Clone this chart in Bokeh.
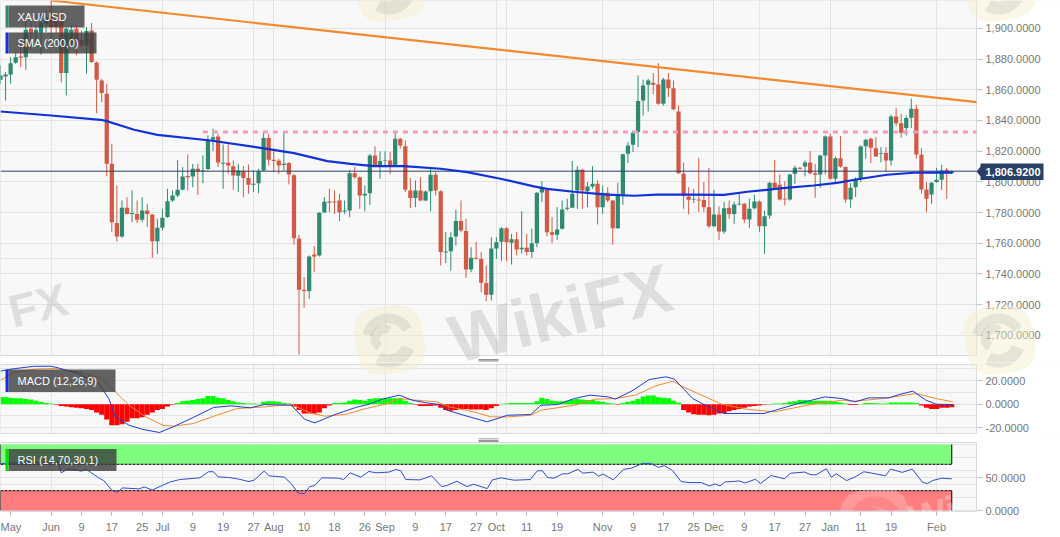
import numpy as np
from bokeh.embed import file_html
from bokeh.resources import INLINE
from bokeh.layouts import column
from bokeh.plotting import figure
from bokeh.models import (Range1d, FixedTicker, NumeralTickFormatter, LinearAxis, Grid, Label,
                          BoxAnnotation, PolyAnnotation)

OPEN = [1866.5,1868.6,1869.9,1877.5,1881.7,1881.2,1899.7,1896.9,1897.1,1903.0,1909.5,1905.1,1904.7,1870.8,1889.9,1899.7,1892.5,1888.8,1898.6,1877.8,
1866.0,1857.3,1811.7,1773.1,1764.4,1783.1,1779.1,1779.1,1775.2,1781.3,1778.7,1761.3,1770.0,1777.0,1787.8,1791.1,1794.8,1803.7,1803.5,1808.5,
1806.5,1808.3,1827.4,1829.5,1811.7,1812.4,1810.2,1803.9,1806.9,1802.4,1798.0,1799.1,1807.4,1828.5,1814.3,1813.7,1810.9,1812.2,1804.3,1763.1,
1729.6,1728.8,1752.7,1752.0,1780.0,1787.2,1787.2,1787.8,1780.7,1781.3,1805.6,1803.0,1791.1,1792.6,1817.2,1810.2,1813.5,1813.9,1810.6,1828.0,
1823.2,1794.4,1789.4,1794.4,1787.8,1793.9,1804.6,1793.9,1754.0,1754.8,1764.4,1774.4,1767.9,1742.9,1750.5,1749.8,1734.0,1726.4,1756.6,1760.9,
1769.8,1760.3,1762.6,1756.1,1757.0,1754.2,1760.0,1793.0,1794.8,1767.2,1765.5,1769.4,1782.4,1783.1,1794.4,1807.8,1793.9,1797.0,1798.7,1783.5,
1792.8,1787.8,1769.8,1791.5,1818.2,1824.1,1832.4,1853.0,1863.2,1864.5,1863.4,1850.8,1866.7,1861.0,1845.8,1805.2,1790.4,1788.5,1788.5,1788.1,
1783.5,1771.1,1778.7,1767.6,1783.1,1779.1,1785.2,1785.7,1775.5,1782.8,1787.2,1771.1,1778.1,1799.3,1798.0,1788.9,1788.5,1805.2,1809.1,1810.0,
1812.6,1805.6,1804.8,1817.2,1829.5,1802.0,1815.4,1809.6,1788.5,1796.5,1802.0,1823.2,1828.0,1821.9,1818.2,1818.7,1813.9,1842.6,1838.2,1835.0,
1841.7,1847.6,1817.6,1795.0,1791.7,1799.8,1801.3,1807.8,1805.6]
HIGH = [1875.8,1871.5,1881.2,1884.5,1889.9,1905.1,1905.1,1901.9,1909.5,1911.6,1918.2,1908.4,1909.5,1900.5,1901.9,1901.9,1898.6,1900.8,1903.4,1878.4,
1867.1,1863.9,1824.8,1797.6,1787.8,1790.0,1794.4,1787.8,1790.0,1785.7,1779.1,1775.9,1782.4,1795.4,1794.4,1814.3,1809.6,1817.8,1811.7,1811.7,
1817.2,1830.2,1834.5,1831.3,1824.3,1824.3,1813.9,1811.7,1810.2,1811.3,1807.4,1808.5,1832.4,1831.3,1821.5,1815.0,1831.7,1812.8,1805.2,1765.5,
1737.9,1752.0,1758.1,1780.2,1790.0,1795.4,1794.4,1792.2,1787.8,1807.4,1809.6,1803.5,1797.6,1818.2,1823.2,1819.8,1819.8,1819.3,1833.4,1828.7,
1826.9,1802.4,1800.9,1803.0,1794.4,1808.5,1806.3,1794.4,1767.2,1767.2,1781.8,1787.8,1775.9,1757.4,1760.7,1754.2,1745.5,1763.9,1763.9,1770.5,
1770.5,1766.1,1767.2,1780.9,1766.1,1769.4,1793.3,1800.4,1795.4,1777.0,1783.5,1787.8,1788.9,1813.5,1810.2,1808.5,1799.8,1810.2,1800.9,1797.6,
1796.5,1788.2,1799.3,1818.2,1825.8,1833.4,1869.3,1866.5,1867.1,1870.8,1877.3,1867.8,1870.8,1866.0,1849.7,1812.4,1796.5,1795.4,1815.6,1799.8,
1809.1,1794.8,1783.9,1786.8,1787.8,1787.2,1793.3,1786.1,1788.9,1791.5,1787.8,1781.3,1799.8,1814.3,1804.6,1800.4,1805.2,1810.6,1809.6,1813.9,
1820.0,1811.7,1817.5,1830.2,1831.3,1816.5,1829.8,1810.0,1799.1,1803.0,1823.7,1828.0,1828.7,1829.1,1822.6,1822.6,1843.7,1848.2,1844.3,1843.2,
1854.1,1850.2,1821.9,1799.8,1799.8,1809.1,1811.1,1809.1,1807.5]
LOW = [1863.9,1853.0,1863.9,1876.9,1874.7,1873.0,1885.6,1889.9,1882.8,1897.5,1891.0,1896.4,1864.9,1856.3,1888.8,1882.3,1887.7,1870.4,1877.5,1844.7,
1851.9,1803.7,1767.2,1761.1,1763.5,1778.7,1773.7,1773.1,1773.7,1770.5,1750.5,1753.1,1768.3,1776.5,1786.8,1790.0,1794.4,1794.4,1796.5,1791.5,
1799.1,1807.4,1820.0,1809.6,1795.4,1805.2,1794.8,1793.3,1790.0,1792.2,1793.3,1792.6,1806.9,1810.6,1806.3,1805.2,1807.4,1798.3,1759.0,1687.5,
1717.9,1723.8,1741.1,1751.3,1779.8,1780.2,1779.1,1774.4,1779.1,1777.0,1802.0,1782.4,1780.7,1785.0,1809.6,1802.0,1810.6,1805.2,1809.6,1821.5,
1793.3,1782.8,1783.5,1787.4,1787.4,1780.7,1791.1,1745.5,1747.0,1742.2,1758.5,1767.2,1737.4,1741.1,1749.4,1728.1,1722.2,1722.7,1749.8,1748.3,
1748.3,1746.1,1752.0,1753.1,1752.0,1750.5,1757.4,1786.8,1764.4,1760.0,1762.2,1768.9,1781.3,1783.1,1782.4,1782.4,1783.5,1795.4,1772.2,1779.1,
1786.8,1759.0,1769.4,1785.0,1812.2,1819.3,1822.6,1843.2,1845.8,1856.9,1850.2,1849.7,1855.2,1846.5,1805.2,1782.4,1778.7,1786.1,1780.2,1780.2,
1770.0,1770.5,1762.2,1766.1,1775.9,1772.6,1784.6,1773.1,1770.0,1782.2,1767.2,1753.1,1775.9,1795.7,1787.8,1784.6,1787.8,1798.7,1807.8,1803.5,
1804.8,1789.6,1796.1,1804.8,1801.3,1799.8,1809.1,1786.3,1783.1,1790.0,1799.8,1815.0,1812.2,1816.1,1812.8,1806.3,1810.6,1836.1,1828.7,1830.2,
1835.0,1815.0,1792.2,1780.2,1785.7,1799.3,1794.8,1788.9,1805.0]
CLOSE = [1869.3,1869.9,1877.3,1881.2,1880.8,1899.0,1896.4,1899.0,1903.4,1907.3,1900.8,1900.8,1870.8,1899.7,1899.0,1892.1,1888.8,1898.2,1878.0,1866.5,
1857.8,1811.7,1773.7,1764.4,1783.1,1779.1,1779.6,1775.2,1781.3,1779.1,1761.3,1770.0,1776.5,1787.4,1791.1,1794.8,1803.5,1803.0,1808.5,1806.7,
1807.4,1826.9,1829.1,1812.6,1812.4,1810.6,1804.1,1807.4,1802.4,1798.0,1798.7,1806.9,1828.5,1814.3,1813.5,1810.6,1811.7,1804.8,1763.3,1729.6,
1728.8,1751.3,1751.3,1779.8,1787.0,1786.3,1786.5,1780.2,1781.3,1805.6,1803.0,1791.1,1792.2,1817.2,1810.6,1813.5,1813.9,1810.2,1828.0,1823.7,
1794.8,1789.4,1794.4,1787.8,1793.7,1804.6,1794.4,1754.2,1754.6,1763.9,1774.4,1768.3,1742.9,1750.5,1749.8,1734.2,1726.4,1756.6,1760.7,1769.8,
1760.7,1762.6,1755.9,1757.0,1754.2,1760.0,1792.8,1796.1,1767.2,1765.5,1768.9,1782.0,1783.1,1792.2,1807.8,1794.4,1797.0,1798.7,1783.5,1792.8,
1787.8,1769.8,1791.5,1818.0,1823.7,1831.9,1852.6,1862.8,1866.0,1863.2,1850.8,1866.7,1861.0,1847.3,1805.6,1790.7,1788.3,1788.9,1787.8,1783.5,
1771.1,1778.7,1767.6,1782.8,1779.1,1785.2,1785.7,1775.5,1782.4,1787.2,1771.1,1777.6,1799.3,1796.1,1788.5,1788.5,1804.8,1809.1,1808.5,1812.6,
1805.6,1804.6,1817.2,1829.5,1802.0,1815.4,1810.0,1788.5,1796.1,1802.0,1823.0,1827.4,1822.2,1816.5,1818.7,1813.9,1842.6,1838.2,1831.9,1841.5,
1847.6,1817.8,1795.0,1788.9,1799.3,1801.3,1807.4,1806.9,1806.9]

SMA_IDX = [0,10,19.8,21,26.4,31,41.5,52.7,58,64.6,69.2,73.8,79.7,87,92.2,98.8,105.4,108,113.3,119.9,125.2,129.8,135.7,143,147.6,154.1,160.7,165.3,170,175.2,180.5,187.1,188.1]
SMA_VAL = [1845.8,1843.2,1840.4,1839.5,1833.9,1830.6,1826.9,1821.5,1818.7,1813.5,1811.7,1810.2,1810.2,1808.5,1806.3,1802,1797,1795.4,1793.5,1791.7,1790.9,1791.7,1791.7,1791.5,1793.5,1795.7,1797.6,1799.3,1802,1804.6,1805.9,1806.1,1805.9]
TREND_IDX = [10, 192.9]
TREND_VAL = [1918.1, 1851.9]
RESIST_IDX = [40, 192.9]
RESIST_VAL = [1832.4, 1832.4]
LAST_IDX = [0, 192.9]
LAST_VAL = [1806.92, 1806.92]

HIST = [6.2,6,5.5,5,5,4.5,4,3,2,1,.5,-.5,-1.5,-2,-2.5,-3,-3.5,-4,-5,-7,-9,-13,-18,-18,-17,-15,-12,-12,-11,-9,-7,-5,-4,-2,-.5,
1,2.5,3,3.5,4.5,5,7,7,5.5,5,3.5,2.5,1.5,1,.5,.5,.3,2,2.5,2.5,2,1,.5,-2,-5,-8,-8,-8,-7,-3.5,-1,1,1,1.5,3,4,3.5,3,4.5,5,5,5,5,5,5,3,1,
-.5,-1.5,-1.5,-1.5,-1,-3,-5,-5.5,-5,-4,-4,-4.5,-4.5,-4.5,-5,-3.5,-1.5,.3,.5,1,1,1,1,1,
2.5,5.5,4.5,3,2.5,2.5,3,4,4.5,4,3.5,3.5,2.5,2,1,.5,-.5,1,2,3,4.5,6.5,7.5,7.5,6,5.5,5,3,1.5,
-5,-7,-8.5,-9,-9,-9.5,-9,-8,-7.5,-6,-5,-4,-3,-2,-1.5,-1,-.5,-.3,.5,.7,1,2,2.5,3.5,3.5,3,3,3,3,3,2,1.5,.5,-.7,-.7,.1,1,1,.8,.5,.7,1.5,1.5,1.5,1.5,1.5,1,-1,-3,-4,-4,-3,-3,-2.5]
MACD_IDX = [0,2,4,6.7,10,11.4,15.3,19.4,21.4,22.7,25.4,28,31.4,34.1,38.1,42.1,45.5,49.4,52.1,57.5,60.1,62.1,66.1,70.2,72.8,75.5,78.8,81.4,84.2,86.9,88.2,92.2,96.2,100.2,104.8,106.8,110.1,113.4,116.5,120.1,121.5,124.8,128.2,131.5,133.2,136.8,138.9,142.9,147.5,150.9,153.6,157.7,162.9,166.3,168.9,171.6,175.6,177.6,180.3,182.9,184.9,188.2]
MACD_VAL = [28.1,29.8,30.9,32.3,32.3,30.9,26.1,17.6,4.8,-10.8,-17.9,-21.3,-24.1,-19.3,-11.3,-2.8,-1.4,-3.1,-.3,-.9,-12.8,-15.9,-8.8,-2.8,0,4.3,7.7,3.4,1.1,-.3,-5.1,-10.2,-15,-9.4,-8.8,-.9,-.3,4.8,7.7,6.2,4.3,11.3,21,23.3,21.3,4.8,0,-7.9,-7.9,-7.9,-4.5,.6,6.2,4.8,2,5.4,5.4,8.2,11.1,3.4,0,-.3]
SIGNAL_IDX = [0,2.7,6.7,10.7,15.3,20.1,22.7,25.4,28.7,32.1,34.1,38.1,42.7,46.8,52.1,57.5,61.5,64.1,68.1,72.2,76.1,78.8,82.2,86.2,88.8,93.5,96.9,100.2,104.8,106.8,113.4,117.5,121.5,125.5,129.5,132.9,134.9,142.5,147.5,152.9,160.2,166.3,168.9,174.3,180.9,184.9,188.2]
SIGNAL_VAL = [20.4,27,29.8,30.4,27.5,21.8,10.5,-.9,-10.8,-17.9,-18.7,-16.5,-9.4,-3.7,-2.3,-.3,-7.9,-10.2,-8.8,-3.7,0,4.8,3.4,2,-2.3,-6.5,-10.8,-10.8,-9.4,-5.1,-.9,4.3,4.8,7.7,15.6,19.6,14.8,0,-4.3,-6.5,-.3,3.4,2.6,4.8,9.1,4.8,2]

RSI_IDX = [0,2.7,11.4,12,13.4,16,17,19.4,20.4,22.1,23.1,24.1,27.4,28.4,30,33.4,35.4,39.4,41.1,42.1,43,45.1,46.8,49.1,50.1,52.1,53.1,56.1,57.5,58.8,60.1,61.1,62.1,63.5,66.8,67.8,69.1,71.2,72.8,74.2,76.8,78.1,79.1,80.1,82.9,85.2,87.2,88.2,90.2,92.2,93.5,96.2,97.2,98.9,101.5,104.7,106.1,107.1,108.1,109.4,111.1,112.1,114.1,115.1,117.1,118.2,119.1,121.1,123.1,124.8,126.8,128.5,130,131.2,132.8,134.5,136.1,138.5,140.1,141.2,142.2,143.2,144.9,145.9,147.2,149.2,150.2,152.3,154.9,156.2,158.9,160.2,161.2,163.2,164.2,165.2,167.2,168.8,170.6,172.2,174.9,175.9,178.2,180.2,182.2,183.2,184.2,186,188]
RSI_VAL = [71,72.4,73.5,57.1,63.3,59.7,62.2,49.5,45.4,30.1,27.6,34.2,32.7,35.7,31.1,42.9,46.9,49.5,58.7,58.7,51,50,48,43.9,45.9,59.7,52.6,50.5,40.3,26.5,25.5,36.2,37.8,49.5,49,46.9,57.1,50.5,59.2,57.1,58.2,62.2,60.2,46.9,46.4,52.6,36.2,37.8,44.4,36.2,39.8,33.2,46.4,49.5,45.9,46.9,60.2,60.2,50,49,55.6,55.6,62.2,56.6,58.2,52,55.1,46.4,62.2,64.3,71.4,71.4,65.3,67.9,60.7,43.9,42.3,42.3,37.2,40.3,37.2,43.4,43.9,44.9,41.8,47.4,40.8,53.1,48,56.6,58.2,54.1,54.1,63.3,50.5,55.6,45.4,50.5,58.7,56.6,52.6,62.8,57.7,62.8,42.9,40.8,45.4,49,48]
RSI_ZONES = [(70, 100), (0, 30)]

PRICE_TICKS = list(range(1700, 1901, 20))
MACD_TICKS = [-20, 0, 20]
RSI_TICKS = [0, 50]
DATE_IDX = [2,10,16,22,28,32,38,44,50,54,60,66,72,76,82,88,94,98,104,110,119,125,131,137,141,147,153,159,164,170,176,185]
DATE_LABELS = ["May","Jun","9","17","25","Jul","9","19","27","Aug","10","18","26","Sep","9","17","27","Oct","11","19","Nov","9","17","25","Dec","9","17","27","Jan","11","19","Feb"]
MONTH_IDX = [10,32,54,76,98,119,141,164,185]

FONT = "Liberation Sans"
GREEN, RED = "#2f8a72", "#d15a45"
PITCH = 5.06
EDGE = 976

def px(x):
    return x / PITCH

def py_main(y):
    return 1800 + (181.3 - y) / 1.535

def py_macd(y):
    return (403.7 - y) / 1.175

def py_rsi(y):
    return (510 - y) / 0.66

def panel(c0, c1, top, bottom, yf, ticks, fmt):
    # the frame covers the whole canvas, so that the watermark, price tag and grips can reach the margins
    p = figure(width=1060, height=c1 - c0, x_range=Range1d(0, px(1060)), y_range=Range1d(yf(c1), yf(c0)),
               toolbar_location=None, output_backend="svg", x_axis_location=None, y_axis_location=None,
               min_border=0, background_fill_color="#f8f8f8", outline_line_color=None)
    p.add_layout(Grid(dimension=0, ticker=FixedTicker(ticks=MONTH_IDX), grid_line_color="#e3e3e3"))
    p.add_layout(Grid(dimension=1, ticker=FixedTicker(ticks=ticks), grid_line_color="#e3e3e3"))
    p.quad(left=px(EDGE), right=px(1060), bottom=yf(c1), top=yf(c0), fill_color="white", line_color=None)
    p.quad(left=0, right=px(1060), bottom=yf(top), top=yf(c0), fill_color="white", line_color=None)
    p.quad(left=0, right=px(1060), bottom=yf(c1), top=yf(bottom), fill_color="white", line_color=None)
    p.quad(left=0, right=px(EDGE), bottom=yf(bottom), top=yf(top), fill_color=None, line_color="#d9dbe2", line_width=1)
    a = LinearAxis(fixed_location=px(EDGE), ticker=FixedTicker(ticks=ticks), formatter=NumeralTickFormatter(format=fmt))
    a.axis_line_color = None
    a.major_tick_line_color = "#c4c4c4"
    a.major_tick_in = 0
    a.major_tick_out = 6
    a.minor_tick_line_color = None
    a.major_label_standoff = 3
    a.major_label_text_font = FONT
    a.major_label_text_font_size = "11px"
    a.major_label_text_color = "#777777"
    p.add_layout(a, "right")
    return p

def chaikin(pts, n=2):
    pts = np.array(pts, float)
    for _ in range(n):
        nxt = np.roll(pts, -1, axis=0)
        pts = np.column_stack([0.8 * pts + 0.2 * nxt, 0.2 * pts + 0.8 * nxt]).reshape(-1, 2)
    return pts

def poly(p, pts, yf, color, alpha, level="annotation", ymax=None):
    pts = np.array(pts, float)
    if ymax is not None:
        pts[:, 1] = np.minimum(pts[:, 1], ymax)
    p.add_layout(PolyAnnotation(xs=[float(px(v)) for v in pts[:, 0]], ys=[float(yf(v)) for v in pts[:, 1]],
                                xs_units="data", ys_units="data", fill_color=color, fill_alpha=alpha,
                                line_color=None, level=level))

def arc(cx, cy, r0, r1, a0, a1):
    t = np.radians(np.linspace(a0, a1, 24))
    outer = np.column_stack([cx + r1 * np.cos(t), cy + r1 * np.sin(t)])
    inner = np.column_stack([cx + r0 * np.cos(t[::-1]), cy + r0 * np.sin(t[::-1])])
    return np.vstack([outer, inner])

def tile(p, yf, dx, dy, fill="#f7edc8", falpha=.45, swirl="#9a9794", salpha=.2, ymax=None):
    corners = [(350, 310), (417, 302), (429, 367), (360, 378)]
    poly(p, chaikin([(x + dx, y + dy) for x, y in corners]), yf, fill, falpha, ymax=ymax)
    cx, cy = 388 + dx, 340 + dy
    poly(p, arc(cx, cy, 17, 27, 195, 330), yf, swirl, salpha, ymax=ymax)
    poly(p, arc(cx, cy, 14, 27, 20, 120), yf, swirl, salpha, ymax=ymax)
    poly(p, arc(cx - 4, cy - 2, 5, 14, 120, 300), yf, swirl, salpha, ymax=ymax)

def wordmark(p, x, y, yf, text="WikiFX", size=68, color="#b9b4b0", alpha=.38):
    p.add_layout(Label(x=px(x), y=yf(y), text=text, angle=14, angle_units="deg",
                       text_font=FONT, text_font_style="bold", text_font_size=f"{size}px",
                       text_color=color, text_alpha=alpha, text_baseline="alphabetic"))

def legend(p, yf, text, right, top, bottom, strip):
    p.add_layout(BoxAnnotation(left=px(8), right=px(right), top=yf(top), bottom=yf(bottom),
                               fill_color="#3c3c3c", fill_alpha=.8, line_color=None))
    p.add_layout(BoxAnnotation(left=px(5), right=px(8), top=yf(top), bottom=yf(bottom),
                               fill_color=strip, fill_alpha=1, line_color=None))
    p.add_layout(Label(x=px(17), y=yf((top + bottom) / 2), text=text, text_font=FONT, text_font_size="11px",
                       text_color="white", text_baseline="middle"))

def grip(p, yf, y):
    for dy in (0, 1.4, 2.8):
        poly(p, [(478, y + dy), (498, y + dy), (498, y + dy + .8), (478, y + dy + .8)], yf, "#777777", 1)

# ------------------------------------------------------------- price panel
idx = np.arange(len(OPEN))
o, h, l, c = map(np.array, (OPEN, HIGH, LOW, CLOSE))
colors = [GREEN if a >= b else RED for a, b in zip(c, o)]

p1 = panel(0, 362, 0, 355, py_main, PRICE_TICKS, "0,0.0000")
for dx, dy in ((0, 0), (610, 0), (0, -353), (610, -353)):
    tile(p1, py_main, dx, dy)
p1.segment(idx, l, idx, h, line_color=colors, line_width=1)
p1.vbar(idx, 0.84, np.minimum(o, c), np.maximum(o, c), fill_color=colors, line_color=None)
p1.line(RESIST_IDX, RESIST_VAL, line_color="#f29bc0", line_width=3, line_dash="5 5")
p1.line(TREND_IDX, TREND_VAL, line_color="#f28a30", line_width=2.2)
p1.line(LAST_IDX, LAST_VAL, line_color="#2b3f66", line_width=1)
p1.line(SMA_IDX, SMA_VAL, line_color="#1231d6", line_width=2.2)
wordmark(p1, 450, 340, py_main)
wordmark(p1, 9, 312, py_main, text="FX", size=46)
legend(p1, py_main, "XAU/USD", 84, 5, 27, GREEN)
legend(p1, py_main, "SMA (200,0)", 96, 32, 53, "#1231d6")
grip(p1, py_main, 358.5)
poly(p1, [(976, 171), (980, 166), (980, 163), (1043, 163), (1043, 179.5), (980, 179.5), (980, 176)], py_main, "#2b3f66", 1)
p1.add_layout(Label(x=px(985), y=py_main(171.5), text="1,806.9200", text_font=FONT, text_font_size="11px",
                    text_font_style="bold", text_color="white", text_baseline="middle"))

# ------------------------------------------------------------- MACD panel
p2 = panel(362, 436, 364, 433, py_macd, MACD_TICKS, "0.0000")
for dx in (0, 610):
    tile(p2, py_macd, dx, 0)
hist_colors = ["#00ff00" if v >= 0 else "#ff0000" for v in HIST]
p2.vbar(idx, 1.0, 0, HIST, fill_color=hist_colors, line_color=None)
p2.line(SIGNAL_IDX, SIGNAL_VAL, line_color="#f08a35", line_width=1)
p2.line(MACD_IDX, MACD_VAL, line_color="#1f3fd0", line_width=1)
legend(p2, py_macd, "MACD (12,26,9)", 115, 369, 391.5, "#1231d6")

# ------------------------------------------------------------- RSI panel
p3 = panel(436, 537, 442, 511, py_rsi, RSI_TICKS, "0.0000")
ax = LinearAxis(fixed_location=py_rsi(511), ticker=FixedTicker(ticks=DATE_IDX))
ax.major_label_overrides = dict(zip(DATE_IDX, DATE_LABELS))
ax.axis_line_color = None
ax.major_tick_line_color = "#b5b5b5"
ax.major_tick_in = 0
ax.major_tick_out = 4
ax.minor_tick_line_color = None
ax.major_label_standoff = 5
ax.major_label_text_font = FONT
ax.major_label_text_font_size = "11px"
ax.major_label_text_color = "#777777"
p3.add_layout(ax, "below")
zone_colors = ["#7dfc7d", "#ff7d7d"]
for (lo, hi), col in zip(RSI_ZONES, zone_colors):
    p3.quad(left=0, right=idx[-1], bottom=lo, top=hi, fill_color=col, line_color=None)
p3.segment([idx[-1]] * 2, [70, 0], [idx[-1]] * 2, [100, 30], line_color="black", line_width=1)
p3.segment([0] * 2, [70, 0], [0] * 2, [100, 30], line_color="black", line_width=1)
p3.line([0, idx[-1]], [70, 70], line_color="black", line_width=1, line_dash="3 1")
p3.line([0, idx[-1]], [30, 30], line_color="black", line_width=1, line_dash="3 1")
tile(p3, py_rsi, 487, 183, fill="white", falpha=.22, swirl="#ff7d7d", salpha=.7, ymax=510)
wordmark(p3, 909, 520, py_rsi, text="Wi", size=40, color="white", alpha=.3)
p3.line(RSI_IDX, RSI_VAL, line_color="#2f4fc8", line_width=1)
legend(p3, py_rsi, "RSI (14,70,30,1)", 116, 448.6, 470.6, "#00e000")
grip(p3, py_rsi, 438)

layout = column(p1, p2, p3, spacing=0)
open("out.html", "w").write(file_html(layout, INLINE))
